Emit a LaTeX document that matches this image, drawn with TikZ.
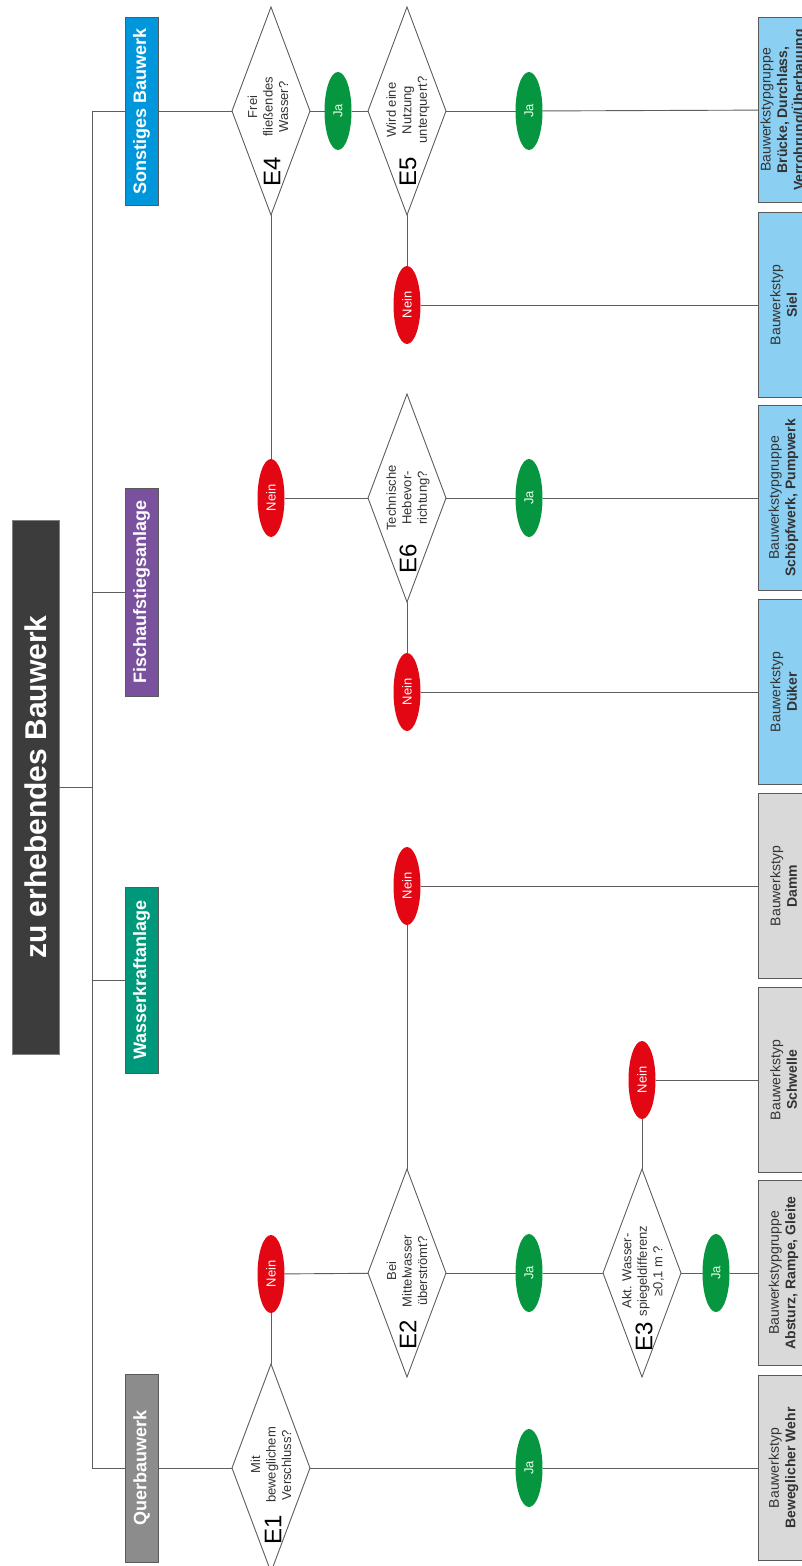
\documentclass[tikz,border=0pt]{standalone}
\usepackage{fontspec}
\setmainfont{Liberation Sans}
\usetikzlibrary{shapes.geometric}
\definecolor{linec}{HTML}{5E5E5E}
\definecolor{borderc}{HTML}{5A5A5A}
\definecolor{titlec}{HTML}{3C3C3C}
\definecolor{querc}{HTML}{8C8C8C}
\definecolor{wasserc}{HTML}{00987B}
\definecolor{fischc}{HTML}{7A519D}
\definecolor{sonstc}{HTML}{0096DB}
\definecolor{lblue}{HTML}{8BCFF2}
\definecolor{lgray}{HTML}{D9D9D9}
\definecolor{redc}{HTML}{E30613}
\definecolor{greenc}{HTML}{06963F}
\definecolor{txtc}{HTML}{333333}
\begin{document}
\begin{tikzpicture}[x=1pt,y=-1pt,
  conn/.style={draw=linec, line width=0.9pt},
  titlebox/.style={rotate=90, fill=titlec, draw=gray, line width=0.6pt, minimum width=534pt, minimum height=47pt, inner sep=0pt, outer sep=0pt, text=white, font=\fontsize{30}{36}\selectfont\bfseries},
  catbox/.style={rotate=90, draw=borderc, line width=0.8pt, minimum width=188pt, minimum height=33pt, inner sep=0pt, outer sep=0pt, text=white, font=\fontsize{18}{20}\selectfont\bfseries},
  typbox/.style={rotate=90, draw=borderc, line width=0.8pt, minimum width=185pt, minimum height=51pt, inner sep=0pt, outer sep=0pt, align=center, text=txtc, font=\fontsize{14}{16.5}\selectfont},
  dec/.style={diamond, draw=linec, line width=0.9pt, fill=white, minimum width=78pt, minimum height=208pt, inner sep=0pt, outer sep=0pt},
  qtext/.style={rotate=90, align=center, text=txtc, font=\fontsize{13}{15.5}\selectfont},
  elabel/.style={rotate=90, inner sep=0pt, font=\fontsize{24}{24}\selectfont},
  nein/.style={ellipse, rotate=90, fill=redc, minimum width=78pt, minimum height=27pt, inner sep=0pt, outer sep=0pt, text=white, font=\fontsize{13}{13}\selectfont},
  ja/.style={ellipse, rotate=90, fill=greenc, minimum width=78pt, minimum height=27pt, inner sep=0pt, outer sep=0pt, text=green!10, font=\fontsize{13}{13}\selectfont}
]
\useasboundingbox (0,0) rectangle (802,1566);
\clip (0,0) rectangle (802,1566);
\fill[white] (0,0) rectangle (802,1566);

% title and categories
\node[titlebox] (title) at (35.5,787) {zu erhebendes Bauwerk};
\node[catbox, fill=sonstc, minimum width=188pt] (cS) at (141.5,111) {Sonstiges Bauwerk};
\node[catbox, fill=fischc, minimum width=208pt] (cF) at (141.5,592) {Fischaufstiegsanlage};
\node[catbox, fill=wasserc, minimum width=186pt] (cW) at (141.5,980) {Wasserkraftanlage};
\node[catbox, fill=querc] (cQ) at (141.5,1468) {Querbauwerk};

\coordinate (sp1) at (92,111);
\coordinate (sp2) at (92,592);
\coordinate (spm) at (92,787);
\coordinate (sp3) at (92,980);
\coordinate (sp4) at (92,1468);

% decisions
\node[dec] (E1) at (271,1468) {};
\node[dec] (E2) at (407,1273) {};
\node[dec] (E3) at (642,1273) {};
\node[dec] (E4) at (271,111) {};
\node[dec] (E5) at (407,111) {};
\node[dec] (E6) at (407,498) {};

\node[qtext] (q1) at (271,1465) {Mit\\beweglichem\\Verschluss?};
\node[qtext] (q2) at (407,1271) {Bei\\Mittelwasser\\überströmt?};
\node[qtext] (q3) at (643,1271) {Akt. Wasser-\\spiegeldifferenz\\≥0,1 m ?};
\node[qtext] (q4) at (268,107) {Frei\\fließendes\\Wasser?};
\node[qtext] (q5) at (408,110) {Wird eine\\Nutzung\\unterquert?};
\node[qtext] (q6) at (408,498) {Technische\\Hebevor-\\richtung?};

\node[elabel] (l1) at (273,1530) {E1};
\node[elabel] (l2) at (408,1335) {E2};
\node[elabel] (l3) at (644,1337) {E3};
\node[elabel] (l4) at (272,172) {E4};
\node[elabel] (l5) at (408,172) {E5};
\node[elabel] (l6) at (408,559) {E6};

% answers
\node[ja] (J1) at (529,1468) {Ja};
\node[nein] (N1) at (271,1274) {Nein};
\node[ja] (J2) at (529,1273) {Ja};
\node[nein] (N2) at (407,886) {Nein};
\node[ja] (J3) at (716,1273) {Ja};
\node[nein] (N3) at (642,1080) {Nein};
\node[ja] (J4) at (338,111) {Ja};
\node[nein] (N4) at (271,498) {Nein};
\node[ja] (J5) at (529,111) {Ja};
\node[nein] (N5) at (407,305) {Nein};
\node[ja] (J6) at (529,498) {Ja};
\node[nein] (N6) at (407,692) {Nein};

% result boxes
\node[typbox, fill=lblue] (t1) at (783.5,110) {Bauwerkstypgruppe\\\textbf{Brücke, Durchlass,}\\\textbf{Verrohrung/Überbauung}};
\node[typbox, fill=lblue] (t2) at (783.5,305) {Bauwerkstyp\\\textbf{Siel}};
\node[typbox, fill=lblue] (t3) at (783.5,498) {Bauwerkstypgruppe\\\textbf{Schöpfwerk, Pumpwerk}};
\node[typbox, fill=lblue] (t4) at (783.5,692) {Bauwerkstyp\\\textbf{Düker}};
\node[typbox, fill=lgray] (t5) at (783.5,886) {Bauwerkstyp\\\textbf{Damm}};
\node[typbox, fill=lgray] (t6) at (783.5,1080) {Bauwerkstyp\\\textbf{Schwelle}};
\node[typbox, fill=lgray] (t7) at (783.5,1273) {Bauwerkstypgruppe\\\textbf{Absturz, Rampe, Gleite}};
\node[typbox, fill=lgray] (t8) at (783.5,1468) {Bauwerkstyp\\\textbf{Beweglicher Wehr}};

% connectors: tree
\draw[conn] (title) -- (spm);
\draw[conn] (sp1) -- (sp4);
\draw[conn] (sp1) -- (cS);
\draw[conn] (sp2) -- (cF);
\draw[conn] (sp3) -- (cW);
\draw[conn] (sp4) -- (cQ);

% Querbauwerk branch
\draw[conn] (cQ) -- (E1);
\draw[conn] (E1) -- (J1);
\draw[conn] (J1) -- (t8);
\draw[conn] (E1) -- (N1);
\draw[conn] (N1) -- (E2);
\draw[conn] (E2) -- (J2);
\draw[conn] (J2) -- (E3);
\draw[conn] (E3) -- (J3);
\draw[conn] (J3) -- (t7);
\draw[conn] (E3) -- (N3);
\draw[conn] (N3) -- (t6);
\draw[conn] (E2) -- (N2);
\draw[conn] (N2) -- (t5);

% Sonstiges branch
\draw[conn] (cS) -- (E4);
\draw[conn] (E4) -- (J4);
\draw[conn] (J4) -- (E5);
\draw[conn] (E5) -- (J5);
\draw[conn] (J5) -- (t1);
\draw[conn] (E5) -- (N5);
\draw[conn] (N5) -- (t2);
\draw[conn] (E4) -- (N4);
\draw[conn] (N4) -- (E6);
\draw[conn] (E6) -- (J6);
\draw[conn] (J6) -- (t3);
\draw[conn] (E6) -- (N6);
\draw[conn] (N6) -- (t4);
\end{tikzpicture}
\end{document}
